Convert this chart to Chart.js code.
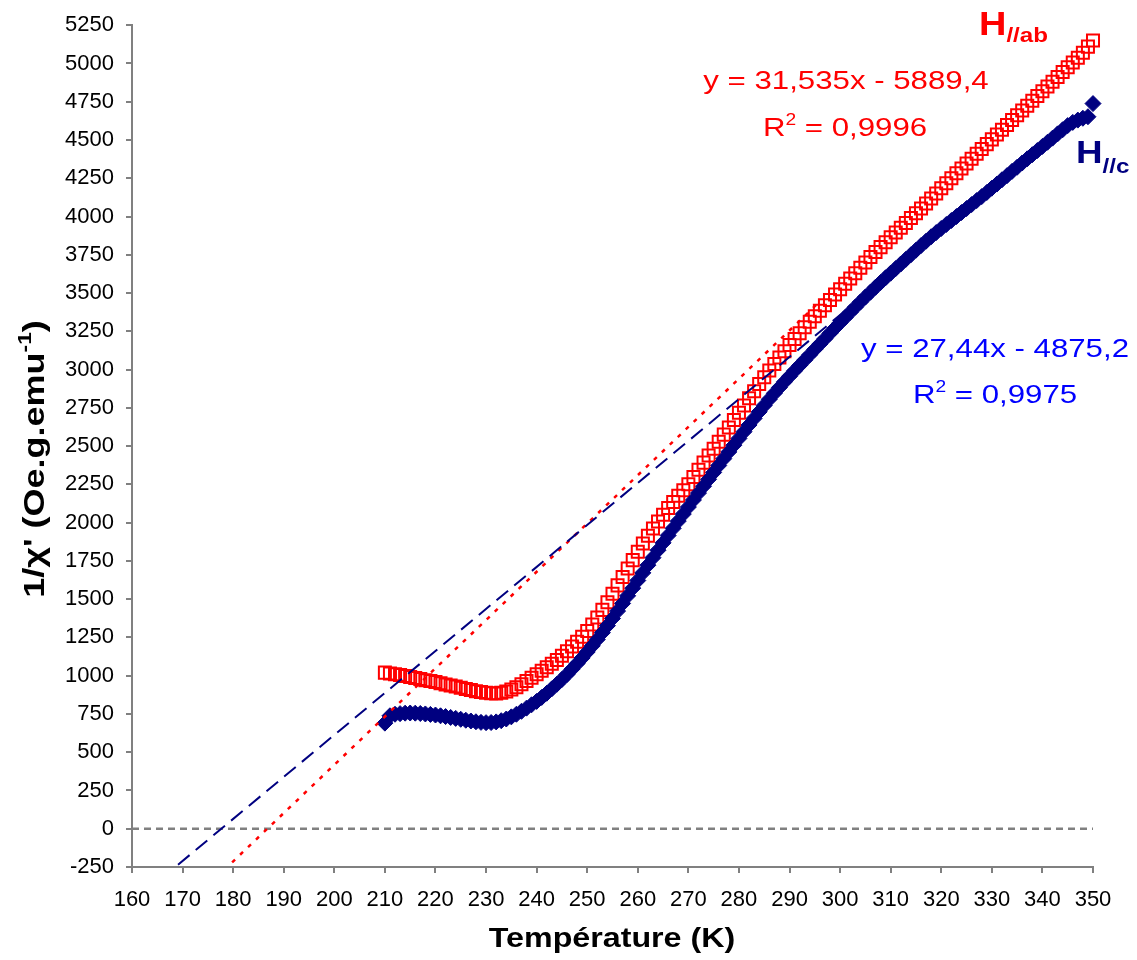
<!DOCTYPE html>
<html>
<head>
<meta charset="utf-8">
<script src="https://cdn.jsdelivr.net/npm/chart.js@4.4.1/dist/chart.umd.min.js"></script>
<style>
  html, body { margin: 0; padding: 0; background: #fff; }
  #wrap { width: 1137px; height: 960px; }
</style>
</head>
<body>
<div id="wrap"><canvas id="chiChart" width="1137" height="960"></canvas></div>
<script>
// temperatures (K)
const temps = [
  210, 211, 212, 213, 214, 215, 216, 217, 218, 219,
  220, 221, 222, 223, 224, 225, 226, 227, 228, 229,
  230, 231, 232, 233, 234, 235, 236, 237, 238, 239,
  240, 241, 242, 243, 244, 245, 246, 247, 248, 249,
  250, 251, 252, 253, 254, 255, 256, 257, 258, 259,
  260, 261, 262, 263, 264, 265, 266, 267, 268, 269,
  270, 271, 272, 273, 274, 275, 276, 277, 278, 279,
  280, 281, 282, 283, 284, 285, 286, 287, 288, 289,
  290, 291, 292, 293, 294, 295, 296, 297, 298, 299,
  300, 301, 302, 303, 304, 305, 306, 307, 308, 309,
  310, 311, 312, 313, 314, 315, 316, 317, 318, 319,
  320, 321, 322, 323, 324, 325, 326, 327, 328, 329,
  330, 331, 332, 333, 334, 335, 336, 337, 338, 339,
  340, 341, 342, 343, 344, 345, 346, 347, 348, 349,
  350
];

// 1/chi' for H // ab (red squares)
const chiAb = [
  1020, 1015, 1010, 1005, 998, 992, 985, 978, 970, 965,
  958, 950, 943, 936, 929, 921, 913, 906, 899, 893,
  888, 885, 884, 888, 896, 909, 925, 944, 965, 987,
  1010, 1032, 1055, 1078, 1102, 1130, 1160, 1190, 1222, 1255,
  1292, 1335, 1380, 1430, 1480, 1535, 1590, 1645, 1700, 1755,
  1810, 1864, 1915, 1962, 2008, 2052, 2095, 2135, 2175, 2212,
  2250, 2298, 2345, 2392, 2438, 2483, 2528, 2575, 2622, 2670,
  2718, 2765, 2812, 2858, 2905, 2950, 2994, 3037, 3079, 3120,
  3160, 3200, 3238, 3276, 3313, 3349, 3385, 3420, 3455, 3490,
  3525, 3560, 3595, 3630, 3665, 3700, 3735, 3768, 3800, 3832,
  3864, 3895, 3927, 3958, 3990, 4021, 4053, 4085, 4117, 4150,
  4185, 4217, 4250, 4282, 4314, 4346, 4378, 4410, 4441, 4473,
  4504, 4536, 4567, 4598, 4630, 4661, 4693, 4724, 4756, 4787,
  4818, 4850, 4881, 4912, 4944, 4975, 5007, 5038, 5070, 5110,
  5150
];

// 1/chi' for H // c (navy diamonds)
const chiC = [
  690, 738, 748, 752, 755, 756, 755, 753, 750, 747,
  743, 738, 733, 727, 721, 715, 709, 704, 699, 695,
  693, 694, 698, 706, 717, 731, 748, 767, 788, 810,
  832, 858, 885, 914, 944, 975, 1008, 1043, 1079, 1116,
  1155, 1195, 1237, 1281, 1327, 1374, 1422, 1472, 1522, 1572,
  1622, 1672, 1722, 1771, 1820, 1868, 1916, 1963, 2010, 2056,
  2102, 2148, 2193, 2238, 2283, 2328, 2373, 2418, 2462, 2506,
  2550, 2594, 2638, 2681, 2724, 2766, 2806, 2845, 2883, 2920,
  2956, 2992, 3027, 3062, 3097, 3132, 3167, 3202, 3237, 3272,
  3306, 3340, 3374, 3408, 3441, 3474, 3506, 3538, 3569, 3600,
  3630, 3660, 3690, 3720, 3750, 3780, 3810, 3839, 3868, 3895,
  3922, 3948, 3974, 4000, 4026, 4052, 4078, 4104, 4130, 4157,
  4185, 4212, 4240, 4267, 4295, 4322, 4350, 4377, 4404, 4431,
  4458, 4485, 4512, 4540, 4567, 4594, 4615, 4630, 4642, 4652,
  4738
];

const xTickValues = [160, 170, 180, 190, 200, 210, 220, 230, 240, 250, 260, 270, 280, 290, 300, 310, 320, 330, 340, 350];
const yTickValues = [-250, 0, 250, 500, 750, 1000, 1250, 1500, 1750, 2000, 2250, 2500, 2750, 3000,
  3250, 3500, 3750, 4000, 4250, 4500, 4750, 5000, 5250];

// linear fits shown on the chart: [slope, intercept], and the T span of each drawn line
const fitAb = [31.535, -5889.4];
const fitC = [27.44, -4875.2];
const fitAbSpan = [179.8, 296];
const fitCSpan = [169.1, 305];
const fitAbLabel = ["y = 31,535x - 5889,4", " = 0,9996"];
const fitCLabel = ["y = 27,44x - 4875,2", " = 0,9975"];

const RED = "#ff0000";
const NAVY = "#000080";
const BLUE = "#0000ff";
const GREY = "#808080";
const FONT = "'Liberation Sans', Arial, sans-serif";

const toPoints = (xs, ys) => xs.map((x, i) => ({ x: x, y: ys[i] }));
const fitLine = (fit, span) => span.map(x => ({ x: x, y: fit[0] * x + fit[1] }));

// draws a run of text pieces (for sub/superscripts), stretched horizontally by sx
function textRun(ctx, parts, x, y, color, sx, align) {
    ctx.save();
    ctx.fillStyle = color;
    ctx.textBaseline = "alphabetic";
    ctx.textAlign = "left";
    const widths = parts.map(p => {
        ctx.font = (p.bold ? "bold " : "") + p.size + "px " + FONT;
        return ctx.measureText(p.t).width * sx;
    });
    const total = widths.reduce((a, b) => a + b, 0);
    let cx = align === "center" ? x - total / 2 : (align === "right" ? x - total : x);
    parts.forEach((p, i) => {
        ctx.font = (p.bold ? "bold " : "") + p.size + "px " + FONT;
        ctx.save();
        ctx.translate(cx, y + (p.dy || 0));
        ctx.scale(sx, 1);
        ctx.fillText(p.t, 0, 0);
        ctx.restore();
        cx += widths[i];
    });
    ctx.restore();
}

const labelsPlugin = {
    id: "labels",
    afterDraw(chart) {
        const ctx = chart.ctx;

        // fit equations
        textRun(ctx, [{ t: fitAbLabel[0], size: 26 }], 846, 89, RED, 1.2, "center");
        textRun(ctx, [{ t: "R", size: 26 }, { t: "2", size: 16, dy: -11 }, { t: fitAbLabel[1], size: 26 }],
            845, 136, RED, 1.2, "center");
        textRun(ctx, [{ t: fitCLabel[0], size: 26 }], 995, 357, BLUE, 1.2, "center");
        textRun(ctx, [{ t: "R", size: 26 }, { t: "2", size: 16, dy: -11 }, { t: fitCLabel[1], size: 26 }],
            995, 403, BLUE, 1.2, "center");

        // series names
        textRun(ctx, [{ t: "H", size: 33, bold: true }, { t: "//ab", size: 21, bold: true, dy: 7 }],
            979, 35, RED, 1.15, "left");
        textRun(ctx, [{ t: "H", size: 32, bold: true }, { t: "//c", size: 21, bold: true, dy: 10 }],
            1076, 163, NAVY, 1.15, "left");

        // axis titles
        textRun(ctx, [{ t: "Température (K)", size: 28, bold: true }], 612, 947, "#000", 1.15, "center");

        ctx.save();
        ctx.translate(44, 459);
        ctx.rotate(-Math.PI / 2);
        textRun(ctx, [{ t: "1/χ' (Oe.g.emu", size: 30, bold: true },
            { t: "-1", size: 19, bold: true, dy: -13 },
            { t: ")", size: 30, bold: true }], 0, 0, "#000", 1.2, "center");
        ctx.restore();
    }
};

const axisStyle = {
    border: { color: GREY, width: 2 },
    grid: { drawOnChartArea: false, drawTicks: true, tickLength: 6, color: GREY, lineWidth: 2 },
};

new Chart(document.getElementById("chiChart"), {
    type: "scatter",
    data: {
        datasets: [
            {
                label: "fit c",
                data: fitLine(fitC, fitCSpan),
                showLine: true,
                borderColor: NAVY,
                borderWidth: 2,
                borderDash: [15, 8],
                pointRadius: 0,
                clip: false
            },
            {
                label: "fit ab",
                data: fitLine(fitAb, fitAbSpan),
                showLine: true,
                borderColor: RED,
                borderWidth: 2.5,
                borderDash: [4, 7],
                pointRadius: 0,
                clip: false
            },
            {
                label: "H//c",
                data: toPoints(temps, chiC),
                pointStyle: "rectRot",
                pointRadius: 8,
                backgroundColor: NAVY,
                borderColor: NAVY,
                borderWidth: 1,
                clip: false
            },
            {
                label: "H//ab",
                data: toPoints(temps, chiAb),
                pointStyle: "rect",
                pointRadius: 8.5,
                backgroundColor: "rgba(0,0,0,0)",
                borderColor: RED,
                borderWidth: 2,
                clip: false
            },
            {
                label: "zero",
                data: [{ x: xTickValues[0], y: 0 }, { x: xTickValues[xTickValues.length - 1], y: 0 }],
                showLine: true,
                borderColor: GREY,
                borderWidth: 2.5,
                borderDash: [7, 5],
                pointRadius: 0
            }
        ]
    },
    options: {
        responsive: false,
        animation: false,
        layout: { padding: { top: 16, right: 44, bottom: 0, left: 0 } },
        plugins: {
            legend: { display: false },
            tooltip: { enabled: false }
        },
        scales: {
            x: {
                type: "linear",
                min: 160,
                max: 350,
                ...axisStyle,
                afterBuildTicks: s => { s.ticks = xTickValues.map(v => ({ value: v })); },
                afterFit: s => { s.height = 93; },
                ticks: {
                    color: "#000",
                    font: { family: FONT, size: 22 },
                    padding: 14,
                    maxRotation: 0,
                    autoSkip: false,
                    callback: v => String(v)
                }
            },
            y: {
                type: "linear",
                min: -250,
                max: 5250,
                ...axisStyle,
                afterBuildTicks: s => { s.ticks = yTickValues.map(v => ({ value: v })); },
                afterFit: s => { s.width = 132; },
                ticks: {
                    color: "#000",
                    font: { family: FONT, size: 22 },
                    padding: 12,
                    autoSkip: false,
                    callback: v => String(v)
                }
            }
        }
    },
    plugins: [labelsPlugin]
});
</script>
</body>
</html>
